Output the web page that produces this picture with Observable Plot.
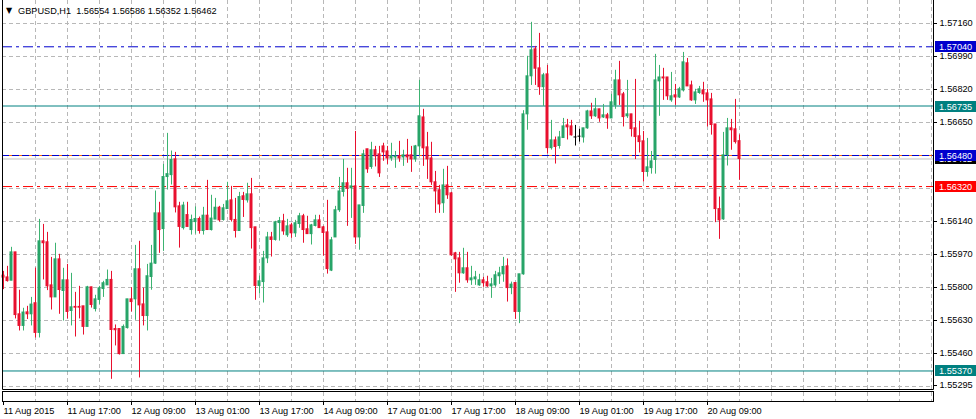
<!DOCTYPE html>
<html>
<head>
<meta charset="utf-8">
<script src="https://cdn.jsdelivr.net/npm/d3@7"></script>
<script src="https://cdn.jsdelivr.net/npm/@observablehq/plot@0.6"></script>
<style>
  html, body { margin: 0; padding: 0; background: #fff; }
  #chart { width: 976px; height: 419px; overflow: hidden; }
  #chart svg { display: block; }
</style>
</head>
<body>
<div id="chart"></div>
<script>
// ---- data (GBPUSD H1) ----
const openP = [1.55861,1.55852,1.55835,1.55981,1.55662,1.55602,1.55672,1.55662,1.55719,1.55566,
1.56038,1.56033,1.55811,1.55749,1.55945,1.55782,1.55837,1.55679,1.55700,1.55700,
1.55703,1.55597,1.55801,1.55689,1.55736,1.55792,1.55811,1.55839,1.55586,1.55586,
1.55457,1.55591,1.55739,1.55739,1.55894,1.55713,1.55653,1.55854,1.55923,1.56182,
1.56101,1.56369,1.56379,1.56460,1.56218,1.56106,1.56173,1.56096,1.56137,1.56153,
1.56091,1.56170,1.56096,1.56150,1.56211,1.56148,1.56204,1.56249,1.56148,1.56091,
1.56270,1.56249,1.56280,1.56110,1.55808,1.55828,1.55950,1.56058,1.56045,1.56132,
1.56141,1.56069,1.56120,1.56079,1.56127,1.56167,1.56100,1.56075,1.56117,1.56146,
1.56110,1.56084,1.55887,1.56058,1.56198,1.56292,1.56337,1.56311,1.56321,1.56058,
1.56220,1.56512,1.56421,1.56507,1.56486,1.56527,1.56501,1.56465,1.56470,1.56476,
1.56470,1.56481,1.56481,1.56460,1.56527,1.56676,1.56522,1.56465,1.56342,1.56301,
1.56234,1.56326,1.56285,1.55976,1.55950,1.55873,1.55899,1.55837,1.55842,1.55811,
1.55837,1.55827,1.55806,1.55811,1.55858,1.55868,1.55909,1.55797,1.55823,1.55674,
1.55868,1.56692,1.56888,1.57027,1.56929,1.56832,1.56898,1.56518,1.56558,1.56529,
1.56570,1.56635,1.56630,1.56573,1.56577,1.56573,1.56620,1.56707,1.56682,1.56718,
1.56676,1.56687,1.56671,1.56738,1.56867,1.56795,1.56682,1.56692,1.56620,1.56579,
1.56553,1.56395,1.56415,1.56457,1.56862,1.56882,1.56882,1.56764,1.56790,1.56779,
1.56815,1.56955,1.56841,1.56764,1.56802,1.56815,1.56800,1.56769,1.56640,1.56204,
1.56151,1.56481,1.56620,1.56615,1.56554];
const highP = [1.55883,1.55909,1.56007,1.55981,1.55786,1.55693,1.55703,1.55749,1.55900,1.56151,
1.56125,1.56084,1.55955,1.56028,1.55971,1.55899,1.55919,1.55873,1.55775,1.55806,
1.55703,1.55806,1.55801,1.55760,1.55806,1.55832,1.55890,1.55883,1.55607,1.55586,
1.55607,1.55739,1.55799,1.56017,1.56038,1.55797,1.55919,1.56017,1.56297,1.56239,
1.56434,1.56594,1.56503,1.56496,1.56239,1.56239,1.56239,1.56173,1.56215,1.56163,
1.56213,1.56352,1.56275,1.56259,1.56218,1.56228,1.56342,1.56321,1.56259,1.56290,
1.56290,1.56337,1.56362,1.56110,1.55859,1.55986,1.56084,1.56084,1.56141,1.56161,
1.56177,1.56151,1.56131,1.56146,1.56182,1.56177,1.56167,1.56125,1.56172,1.56172,
1.56115,1.56249,1.56058,1.56218,1.56367,1.56460,1.56414,1.56414,1.56604,1.56223,
1.56507,1.56512,1.56548,1.56527,1.56527,1.56543,1.56527,1.56543,1.56501,1.56553,
1.56507,1.56563,1.56527,1.56532,1.56867,1.56718,1.56599,1.56548,1.56398,1.56326,
1.56409,1.56424,1.56290,1.55981,1.55981,1.56002,1.55981,1.55909,1.55883,1.55868,
1.55852,1.55858,1.55847,1.55883,1.55904,1.55955,1.55947,1.55828,1.55823,1.55868,
1.56711,1.56991,1.57166,1.57042,1.57109,1.56903,1.56944,1.56661,1.56575,1.56604,
1.56671,1.56666,1.56661,1.56635,1.56615,1.56620,1.56713,1.56749,1.56774,1.56718,
1.56743,1.56697,1.56795,1.56919,1.56965,1.56805,1.56867,1.56692,1.56872,1.56656,
1.56604,1.56568,1.56501,1.57001,1.56944,1.56929,1.56882,1.56908,1.56846,1.56831,
1.57011,1.56980,1.56863,1.56821,1.56836,1.56857,1.56821,1.56800,1.56640,1.56266,
1.56599,1.56671,1.56666,1.56769,1.56586];
const lowP = [1.55789,1.55828,1.55835,1.55638,1.55576,1.55576,1.55635,1.55602,1.55540,1.55540,
1.55839,1.55784,1.55684,1.55749,1.55662,1.55627,1.55638,1.55602,1.55545,1.55638,
1.55555,1.55597,1.55694,1.55674,1.55713,1.55749,1.55811,1.55327,1.55499,1.55452,
1.55457,1.55586,1.55674,1.55631,1.55334,1.55602,1.55576,1.55786,1.55919,1.55976,
1.55986,1.56302,1.56328,1.56184,1.56003,1.56096,1.56112,1.56070,1.56075,1.56075,
1.56070,1.56096,1.56091,1.56150,1.56137,1.56142,1.56204,1.56137,1.56055,1.56091,
1.56161,1.56235,1.55998,1.55734,1.55766,1.55720,1.55923,1.55957,1.56039,1.56039,
1.56069,1.56058,1.56053,1.56058,1.56105,1.56028,1.56075,1.56019,1.56112,1.56105,
1.55962,1.55869,1.55882,1.56058,1.56187,1.56266,1.56115,1.56156,1.56022,1.55992,
1.56182,1.56388,1.56409,1.56421,1.56367,1.56450,1.56434,1.56450,1.56414,1.56445,
1.56424,1.56440,1.56393,1.56445,1.56476,1.56424,1.56357,1.56326,1.56182,1.56182,
1.56182,1.56254,1.55961,1.55775,1.55822,1.55868,1.55822,1.55811,1.55811,1.55806,
1.55801,1.55801,1.55744,1.55801,1.55816,1.55827,1.55725,1.55763,1.55636,1.55614,
1.55863,1.56610,1.56841,1.56841,1.56790,1.56733,1.56487,1.56508,1.56436,1.56513,
1.56570,1.56560,1.56580,1.56529,1.56549,1.56544,1.56615,1.56666,1.56676,1.56651,
1.56671,1.56615,1.56671,1.56718,1.56738,1.56627,1.56671,1.56575,1.56459,1.56493,
1.56343,1.56369,1.56384,1.56384,1.56682,1.56764,1.56764,1.56754,1.56738,1.56774,
1.56807,1.56836,1.56759,1.56743,1.56795,1.56754,1.56627,1.56585,1.56134,1.56048,
1.56146,1.56426,1.56507,1.56539,1.56352];
const closeP = [1.55851,1.55833,1.55981,1.55658,1.55602,1.55671,1.55662,1.55712,1.55566,1.56038,
1.56028,1.55806,1.55749,1.55945,1.55787,1.55837,1.55674,1.55698,1.55696,1.55696,
1.55597,1.55801,1.55710,1.55739,1.55796,1.55822,1.55839,1.55581,1.55580,1.55457,
1.55597,1.55739,1.55725,1.55894,1.55708,1.55653,1.55858,1.55923,1.56182,1.56096,
1.56369,1.56384,1.56457,1.56213,1.56112,1.56222,1.56112,1.56148,1.56153,1.56091,
1.56170,1.56096,1.56155,1.56211,1.56146,1.56208,1.56244,1.56148,1.56091,1.56266,
1.56251,1.56280,1.56106,1.55808,1.55832,1.55950,1.56058,1.56045,1.56136,1.56142,
1.56089,1.56115,1.56079,1.56131,1.56167,1.56096,1.56075,1.56120,1.56146,1.56106,
1.56081,1.55895,1.56043,1.56198,1.56295,1.56337,1.56309,1.56321,1.56058,1.56223,
1.56486,1.56409,1.56507,1.56476,1.56388,1.56496,1.56465,1.56476,1.56476,1.56465,
1.56481,1.56470,1.56460,1.56527,1.56682,1.56517,1.56460,1.56342,1.56295,1.56228,
1.56326,1.56275,1.55966,1.55945,1.55873,1.55899,1.55837,1.55847,1.55852,1.55837,
1.55822,1.55806,1.55816,1.55863,1.55873,1.55906,1.55797,1.55815,1.55674,1.55868,
1.56692,1.56888,1.57022,1.56927,1.56832,1.56893,1.56518,1.56558,1.56524,1.56573,
1.56630,1.56625,1.56584,1.56573,1.56577,1.56620,1.56707,1.56682,1.56718,1.56671,
1.56687,1.56671,1.56754,1.56867,1.56790,1.56678,1.56692,1.56616,1.56575,1.56549,
1.56395,1.56419,1.56450,1.56867,1.56882,1.56877,1.56785,1.56785,1.56779,1.56821,
1.56960,1.56836,1.56764,1.56805,1.56821,1.56795,1.56764,1.56637,1.56204,1.56146,
1.56481,1.56620,1.56610,1.56549,1.56462];

const symbolName = "GBPUSD,H1";
const lastOHLC = [1.56554, 1.56586, 1.56352, 1.56462];
const timeLabels = ["11 Aug 2015","11 Aug 17:00","12 Aug 09:00","13 Aug 01:00","13 Aug 17:00","14 Aug 09:00",
  "17 Aug 01:00","17 Aug 17:00","18 Aug 09:00","19 Aug 01:00","19 Aug 17:00","20 Aug 09:00"];
const barsPerLabel = 16;
const barsPerGrid = 8;
const priceTicks = [1.57160,1.56990,1.56820,1.56650,1.56140,1.55970,1.55800,1.55630,1.55460,1.55295];
const gridPrices = [1.5716,1.5699,1.5682,1.5665,1.5648,1.5631,1.5614,1.5597,1.5580,1.5563,1.5546,1.5529];
const levelPrices = [1.57040, 1.56735, 1.56480, 1.56320, 1.55370];
const bidPrice = 1.56462;

// ---- styling ----
const FONT = "'Liberation Sans', Arial, sans-serif";
const UP = "#27a468", UP_EDGE = "#3cb371", DOWN = "#e8102e", FLAT = "#000000";
const GRID = "#b8b8b8";
const levelStyle = [
  {stroke: "#0000cd", dash: "10,4,3,4", label: "#0000cd"},
  {stroke: "#008080", dash: null, label: "#008080"},
  {stroke: "#0000cd", dash: "7,3", under: "#ff6a00", label: "#0000cd"},
  {stroke: "#ff0000", dash: "10,4,3,4", label: "#ff0000"},
  {stroke: "#008080", dash: null, label: "#008080"}
];

const candles = openP.map((o, i) => ({i, o, h: highP[i], l: lowP[i], c: closeP[i]}));
const up = candles.filter(d => d.c > d.o);
const down = candles.filter(d => d.c < d.o);
const flat = candles.filter(d => d.c === d.o);
const nBars = 233; // bars that fit the visible window
const gridIdx = d3.range(barsPerGrid, nBars, barsPerGrid);
const labelIdx = timeLabels.map((_, k) => k * barsPerLabel);
const fmt = d => d.toFixed(5);

const body = {x1: d => d.i - 0.375, x2: d => d.i + 0.375, y1: "o", y2: "c", insetTop: -0.5, insetBottom: -0.5};

// frame (no top edge), bottom pane, time axis and price boxes — drawn through the scales
function chrome(index, scales, values, dims) {
  const {x, y} = scales;
  const g = d3.create("svg:g").attr("font-family", FONT).attr("font-size", "9.2px").attr("text-anchor", "start");
  const left = dims.marginLeft;
  const right = dims.width - dims.marginRight;
  const bottom = dims.height - dims.marginBottom;
  // main pane border: left, right, bottom
  g.append("path").attr("fill", "none").attr("stroke", "#000")
    .attr("d", `M${left + 0.5},0V${bottom + 0.5}H${right + 0.5}V0`);
  // bottom (empty) pane
  const pane = g.append("g");
  for (const i of gridIdx) {
    pane.append("line").attr("x1", x(i) + 0.5).attr("x2", x(i) + 0.5)
      .attr("y1", bottom + 3).attr("y2", bottom + 12)
      .attr("stroke", GRID).attr("stroke-dasharray", "4,3");
  }
  pane.append("rect").attr("x", left + 0.5).attr("y", bottom + 2.5)
    .attr("width", right - left).attr("height", 10)
    .attr("fill", "none").attr("stroke", "#000");
  // time ticks + labels
  labelIdx.forEach((i, k) => {
    g.append("line").attr("x1", x(i) + 0.5).attr("x2", x(i) + 0.5)
      .attr("y1", bottom + 13).attr("y2", bottom + 16).attr("stroke", "#000");
    g.append("text").attr("x", x(i) + 0.5).attr("y", bottom + 24.5)
      .attr("fill", "#000").text(timeLabels[k]);
  });
  // price boxes for the level lines (bid first, so the others cover it)
  const boxes = [{p: bidPrice, fill: "#000000"}]
    .concat(levelPrices.map((p, k) => ({p, fill: levelStyle[k].label})));
  for (const b of boxes) {
    const cy = Math.round(y(b.p));
    g.append("rect").attr("x", right + 2).attr("y", cy - 5).attr("width", dims.width - right - 2).attr("height", 11)
      .attr("fill", b.fill);
    g.append("text").attr("x", right + 6).attr("y", cy + 4).attr("fill", "#fff").text(fmt(b.p));
  }
  // title
  g.append("text").attr("x", left + 16).attr("y", 14).attr("fill", "#000")
    .text(symbolName + "\u00a0\u00a0" + lastOHLC.map(fmt).join(" "));
  g.append("text").attr("x", left + 4).attr("y", 13).attr("font-size", "8px")
    .attr("font-family", "'DejaVu Sans', sans-serif").attr("fill", "#000").text("\u25bc");
  return g.node();
}

const chart = Plot.plot({
  width: 976,
  height: 419,
  marginLeft: 2,
  marginRight: 43,
  marginTop: 0,
  marginBottom: 30,
  style: {fontFamily: FONT, fontSize: "9.2px", background: "#fff", color: "#000", overflow: "visible"},
  x: {type: "linear", domain: [0, 1], range: [3, 7], axis: null},
  y: {type: "linear", domain: [1.5529, 1.5716], range: [386, 23], axis: "right",
      ticks: priceTicks, tickFormat: fmt, tickSize: 3, tickPadding: 3, label: null},
  marks: [
    // grid
    Plot.ruleY(gridPrices, {stroke: GRID, strokeDasharray: "4,3"}),
    Plot.ruleX(gridIdx, {stroke: GRID, strokeDasharray: "4,3"}),
    // level lines
    Plot.ruleY([levelPrices[2]], {stroke: levelStyle[2].under}),
    ...levelPrices.map((p, k) => Plot.ruleY([p], {stroke: levelStyle[k].stroke, strokeDasharray: levelStyle[k].dash || undefined})),
    Plot.ruleY([bidPrice], {stroke: "#c0c0c0"}),
    // wicks
    Plot.ruleX(up, {x: "i", y1: "l", y2: "h", stroke: UP_EDGE}),
    Plot.ruleX(down, {x: "i", y1: "l", y2: "h", stroke: DOWN}),
    Plot.ruleX(flat, {x: "i", y1: "l", y2: "h", stroke: FLAT}),
    // bodies
    Plot.rect(up, {...body, fill: UP}),
    Plot.rect(down, {...body, fill: DOWN}),
    Plot.rect(flat, {...body, fill: FLAT}),
    chrome
  ]
});
document.getElementById("chart").appendChild(chart);
</script>
</body>
</html>
